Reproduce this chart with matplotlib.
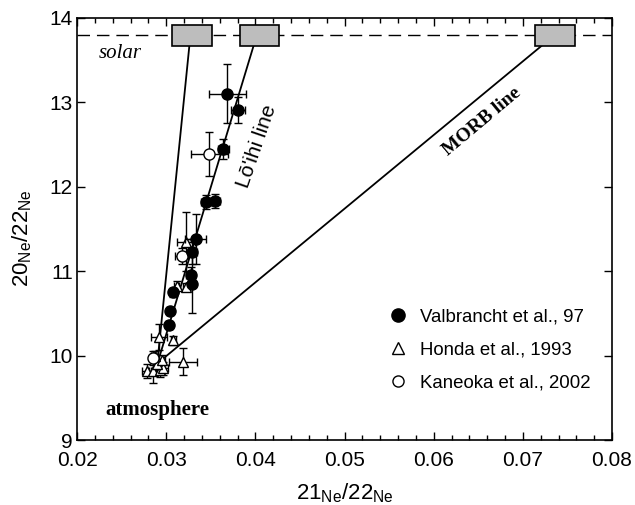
import matplotlib
matplotlib.use("Agg")
import matplotlib.pyplot as plt
from matplotlib.patches import Rectangle
from matplotlib.ticker import MultipleLocator, FuncFormatter
from matplotlib.lines import Line2D

plt.rcParams['font.family'] = ['Liberation Sans', 'DejaVu Sans']
plt.rcParams['mathtext.fontset'] = 'custom'
plt.rcParams['mathtext.rm'] = 'Liberation Sans'
plt.rcParams['mathtext.it'] = 'Liberation Sans'

# ---- data ----
valb_x = [0.03685, 0.03808, 0.03641, 0.03446, 0.03547, 0.03331, 0.03293, 0.03275, 0.03293, 0.03080, 0.03043, 0.03035]
valb_y = [13.10, 12.91, 12.45, 11.82, 11.83, 11.38, 11.23, 10.95, 10.85, 10.75, 10.53, 10.36]
valb_xerr = [0.0021, 0.0008, 0.0006, 0.0006, 0.0006, 0.0012, 0.0005, 0.0005, 0.0003, 0.0003, 0.0003, 0.0003]
valb_yerr = [0.35, 0.15, 0.12, 0.08, 0.08, 0.30, 0.15, 0.10, 0.35, 0.05, 0.05, 0.05]

honda_x = [0.03222, 0.03222, 0.03117, 0.02923, 0.03080, 0.03192, 0.02781, 0.02855, 0.02930, 0.02970, 0.02900, 0.02950, 0.02870]
honda_y = [11.35, 10.81, 10.83, 10.22, 10.18, 9.93, 9.82, 9.82, 9.83, 9.85, 9.90, 9.95, 9.99]
honda_xerr = [0.0010, 0.0003, 0.0003, 0.0009, 0.0003, 0.00155, 0.0005, 0.0005, 0.0005, 0.0005, 0.0004, 0.0004, 0.0004]
honda_yerr = [0.35, 0.05, 0.05, 0.15, 0.05, 0.16, 0.08, 0.15, 0.08, 0.08, 0.06, 0.06, 0.06]

kan_x = [0.03483, 0.03173, 0.02855]
kan_y = [12.39, 11.18, 9.97]
kan_xerr = [0.0021, 0.00075, 0.0004]
kan_yerr = [0.26, 0.10, 0.08]

solar_y = 13.8
box_x0 = [0.0307, 0.0383, 0.0714]
box_x1 = [0.0351, 0.0427, 0.0758]
box_y0 = 13.67
box_y1 = 13.92

line_start_x = [0.0290, 0.0290, 0.0295]
line_start_y = [9.90, 9.90, 9.95]
line_end_x = [0.0326, 0.0398, 0.0721]
line_end_y = [13.67, 13.67, 13.67]

fig = plt.figure(figsize=(6.35, 5.05), dpi=100)
ax = fig.add_axes([77/635, 1-440/505, (612-77)/635, (440-18)/505])

ax.set_xlim(0.02, 0.08)
ax.set_ylim(9, 14)

# solar dashed line
ax.axhline(solar_y, color='black', lw=1.0, dashes=(9, 5), zorder=1)

# mixing lines
for xs, ys, xe, ye in zip(line_start_x, line_start_y, line_end_x, line_end_y):
    ax.plot([xs, xe], [ys, ye], color='black', lw=1.3, zorder=2)

# boxes
for x0, x1 in zip(box_x0, box_x1):
    ax.add_patch(Rectangle((x0, box_y0), x1 - x0, box_y1 - box_y0,
                           facecolor='#bdbdbd', edgecolor='black', lw=1.2, zorder=5))

ekw = dict(ecolor='black', elinewidth=1.0, capsize=3, capthick=1.0, ls='none')
ax.errorbar(honda_x, honda_y, xerr=honda_xerr, yerr=honda_yerr, marker='^', ms=7,
            mfc='white', mec='black', mew=1.0, zorder=3, **ekw)
ax.errorbar(kan_x, kan_y, xerr=kan_xerr, yerr=kan_yerr, marker='o', ms=8,
            mfc='white', mec='black', mew=1.0, zorder=3, **ekw)
ax.errorbar(valb_x, valb_y, xerr=valb_xerr, yerr=valb_yerr, marker='o', ms=8,
            mfc='black', mec='black', zorder=4, **ekw)

# ticks
ax.xaxis.set_major_locator(MultipleLocator(0.01))
ax.xaxis.set_minor_locator(MultipleLocator(0.002))
ax.yaxis.set_major_locator(MultipleLocator(1))
ax.tick_params(which='both', direction='in', top=True, right=True, labelsize=15)
ax.tick_params(which='major', length=6, width=1.0)
ax.tick_params(which='minor', length=3.5, width=1.0)
ax.tick_params(axis='x', pad=8)
ax.tick_params(axis='y', pad=3)
ax.xaxis.set_major_formatter(FuncFormatter(lambda v, p: f"{v:.2f}"))
for s in ax.spines.values():
    s.set_linewidth(1.2)

ax.set_xlabel(r'$\mathregular{21_{Ne}/22_{Ne}}$', fontsize=16)
ax.set_ylabel(r'$\mathregular{20_{Ne}/22_{Ne}}$', fontsize=16)
ax.xaxis.set_label_coords(0.501, -0.097)
ax.yaxis.set_label_coords(-0.080, 0.479)

# annotations
ax.text(0.02482, 13.58, 'solar', fontsize=15, family='Liberation Serif', style='italic',
        ha='center', va='center')
ax.text(0.02897, 9.35, 'atmosphere', fontsize=15, family='Liberation Serif', weight='bold',
        ha='center', va='center')
ax.text(0.04014, 12.48, "Lō'ihi line", fontsize=15, rotation=71, ha='center', va='center')
ax.text(0.06537, 12.77, 'MORB line', fontsize=14, family='Liberation Serif', weight='bold',
        rotation=40, ha='center', va='center')

handles = [
    Line2D([], [], marker='o', ls='none', ms=9.5, mfc='black', mec='black'),
    Line2D([], [], marker='^', ls='none', ms=8, mfc='white', mec='black', mew=1.0),
    Line2D([], [], marker='o', ls='none', ms=8, mfc='white', mec='black', mew=1.0),
]
labels = ['Valbrancht et al., 97', 'Honda et al., 1993', 'Kaneoka et al., 2002']
fig.legend(handles, labels, loc='upper left', bbox_to_anchor=(388.7/635, 1-308/505),
           frameon=False, fontsize=13.4, handlelength=1.0, handletextpad=0.68,
           labelspacing=0.87, borderpad=0, borderaxespad=0)

fig.savefig('out.png', dpi=100)
